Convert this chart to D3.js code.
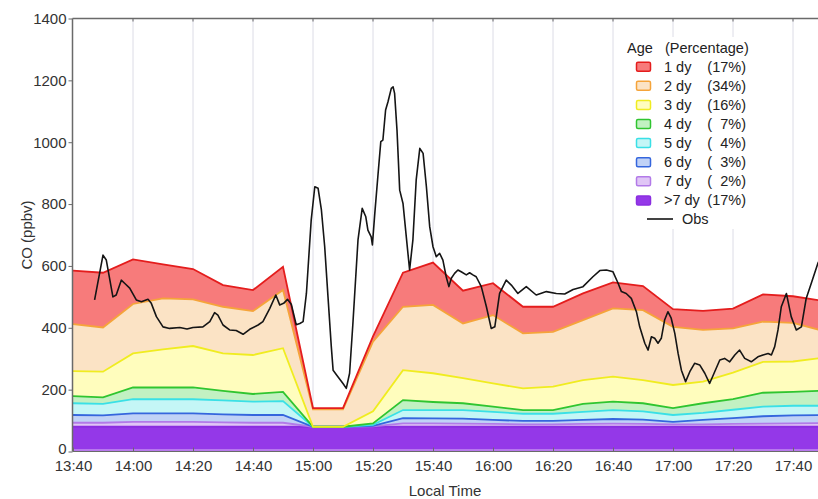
<!DOCTYPE html>
<html><head><meta charset="utf-8">
<script src="https://cdn.jsdelivr.net/npm/d3@7"></script>
<style>
html,body{margin:0;padding:0;background:#fff;}
svg{display:block;font-family:"Liberation Sans",Arial,sans-serif;}
</style></head>
<body><svg id="chart" width="818" height="499"></svg>
<script>
// ---- data ----
const times = ["13:40","13:50","14:00","14:10","14:20","14:30","14:40","14:50","15:00","15:10","15:20","15:30","15:40","15:50","16:00","16:10","16:20","16:30","16:40","16:50","17:00","17:10","17:20","17:30","17:40","17:50"];
const age_gt7 = [80,80,80,80,80,80,80,80,80,80,80,80,80,80,80,80,80,80,80,80,80,80,80,80,80,80];
const age_7  = [13,13,16,16,16,14,13,13,0,0,1,11,11,10,9,8,8,9,10,9,8,8,9,10,11,12];
const age_6  = [25,24,27,27,27,26,25,25,0,0,2,17,16,16,13,11,11,13,15,14,8,14,19,24,26,26];
const age_5  = [38,37,46,46,46,45,43,45,0,0,3,26,27,28,26,23,23,26,29,27,22,23,27,31,31,30];
const age_4  = [23,21,38,38,38,31,25,30,0,0,5,32,26,22,17,12,12,26,27,26,22,31,34,45,45,49];
const age_3  = [81,83,110,123,134,121,126,141,0,0,39,97,93,81,75,70,76,77,81,75,75,70,86,100,98,106];
const age_2  = [152,143,160,165,151,151,142,188,56,56,225,205,221,177,221,178,177,194,221,226,188,167,143,130,125,87];
const age_1  = [173,177,144,110,98,70,68,75,4,4,17,110,137,106,103,86,81,86,84,78,57,62,64,88,86,97];

const seriesNames = ["1 dy","2 dy","3 dy","4 dy","5 dy","6 dy","7 dy",">7 dy"];
const seriesPct   = ["(17%)","(34%)","(16%)","(  7%)","(  4%)","(  3%)","(  2%)","(17%)"];

// observed CO: minutes after 13:40, ppbv
const obsMin = [7.2,10.0,11.1,13.3,14.4,16.1,17.2,18.9,21.1,22.8,25.0,26.1,27.8,30.0,32.2,35.6,38.0,40.0,43.3,45.6,47.2,48.3,50.0,52.2,54.4,56.7,58.9,61.7,63.3,65.6,67.6,68.9,70.2,71.5,72.8,74.4,75.6,76.7,77.8,79.4,80.6,81.7,82.8,83.9,85.0,86.1,86.7,88.3,90.0,91.1,92.2,93.3,95.0,96.4,97.6,98.3,99.4,99.8,100.6,101.7,102.6,103.3,104.2,105.0,106.1,106.7,107.2,108.0,108.9,110.0,111.1,112.2,113.3,114.4,115.6,116.7,117.8,118.9,120.0,121.1,122.2,123.3,124.4,125.3,126.1,127.2,128.3,129.4,131.1,132.2,133.3,134.4,136.1,137.8,139.4,140.6,142.2,144.4,146.1,148.3,151.1,154.4,157.8,161.1,163.9,166.7,170.0,173.3,175.6,177.8,180.0,181.7,182.8,184.4,186.1,187.8,188.9,190.6,191.7,192.8,193.9,195.0,196.1,197.2,198.3,199.4,200.6,201.7,202.8,204.2,205.6,207.2,208.9,210.6,212.2,213.9,215.6,217.2,218.9,220.6,222.2,223.9,226.1,228.3,230.0,231.7,232.8,233.9,235.0,236.1,237.8,239.4,241.1,242.8,244.4,246.1,248.3,250.0];
const obsCO  = [490,635,619,500,506,554,544,528,490,484,492,479,436,403,398,401,396,401,403,420,449,441,409,393,391,379,395,409,420,463,506,474,479,492,475,410,414,420,511,748,856,851,781,662,500,339,263,242,220,204,253,414,684,786,759,716,694,668,770,899,1002,1007,1104,1131,1174,1179,1158,1039,845,802,694,587,684,878,980,964,856,727,662,630,641,619,565,533,560,576,587,581,571,578,571,565,533,468,398,403,511,554,538,511,533,506,517,511,509,524,533,565,585,587,581,544,517,511,495,452,403,350,328,371,366,350,366,425,452,431,382,317,263,226,258,285,280,253,220,258,296,301,290,312,328,301,290,306,312,317,312,339,393,468,511,436,393,403,495,544,609,640];

const xTickLabels = ["13:40","14:00","14:20","14:40","15:00","15:20","15:40","16:00","16:20","16:40","17:00","17:20","17:40"];
const yTickValues = [0,200,400,600,800,1000,1200,1400];

// ---- styles ----
const fills = {"1 dy":"#f77b7b","2 dy":"#fbe3c5","3 dy":"#fffdbd","4 dy":"#c2f1c2","5 dy":"#c4f6f6","6 dy":"#c0d2f6","7 dy":"#e0c6f6",">7 dy":"#9438e8"};
const strokes = {"1 dy":"#e41d1d","2 dy":"#f5a43a","3 dy":"#f0ec20","4 dy":"#30c530","5 dy":"#3ae0e6","6 dy":"#3566dd","7 dy":"#b27ae8",">7 dy":"#8a2ee0"};

const toMin = s => { const [h,m] = s.split(":").map(Number); return (h*60+m) - (13*60+40); };

const svg = d3.select("#chart");
const W = 818, H = 499;
const x = d3.scaleLinear().domain([0, 250]).range([73, 823]);
const y = d3.scaleLinear().domain([0, 1400]).range([451.5, 18.5]);
const pL = 72.5, pT = 18.5, pB = 451.5, pR = W;

svg.append("defs").append("clipPath").attr("id","plot")
  .append("rect").attr("x",pL).attr("y",pT).attr("width",pR-pL).attr("height",pB-pT);

// gridlines
const gridTicks = xTickLabels.map(toMin).filter(v => v > 0);
svg.append("g").selectAll("line").data(gridTicks).join("line")
  .attr("x1", d => x(d)).attr("x2", d => x(d)).attr("y1", pT).attr("y2", pB)
  .attr("stroke","#dcdce6").attr("stroke-width",1);

// stacked data table
const cols = {"1 dy":age_1,"2 dy":age_2,"3 dy":age_3,"4 dy":age_4,"5 dy":age_5,"6 dy":age_6,"7 dy":age_7,">7 dy":age_gt7};
const table = times.map((t,i) => { const r = {t: toMin(t)}; seriesNames.forEach(k => r[k] = cols[k][i]); return r; });
const stackOrder = seriesNames.slice().reverse();
const stacked = d3.stack().keys(stackOrder)(table);

const plot = svg.append("g").attr("clip-path","url(#plot)");
const area = d3.area().x(d => x(d.data.t)).y0(d => y(d[0])).y1(d => y(d[1]));
const topLine = d3.line().x(d => x(d.data.t)).y(d => y(d[1]));

plot.selectAll("path.band").data(stacked).join("path").attr("class","band")
  .attr("d", area).attr("fill", d => fills[d.key]).attr("stroke","none");
plot.append("line").attr("x1",pL).attr("x2",pR).attr("y1",pB-1.5).attr("y2",pB-1.5)
  .attr("stroke","#d9b8f2").attr("stroke-width",1.2);
plot.selectAll("path.edge").data(stacked).join("path").attr("class","edge")
  .attr("d", topLine).attr("fill","none").attr("stroke", d => strokes[d.key]).attr("stroke-width",1.8);

// observations
const obs = obsMin.map((m,i) => ({m, v: obsCO[i]}));
plot.append("path").datum(obs)
  .attr("d", d3.line().x(d => x(d.m)).y(d => y(d.v)))
  .attr("fill","none").attr("stroke","#151515").attr("stroke-width",1.6).attr("stroke-linejoin","round");

// axes
const axCol = "#6a6a6a";
const yAxis = svg.append("g").attr("transform",`translate(${pL},0)`)
  .call(d3.axisLeft(y).tickValues(yTickValues).tickSize(4).tickFormat(d3.format("d")));
yAxis.select(".domain").attr("stroke",axCol).attr("stroke-width",1.5).attr("d",`M0,${pT}V${pB}`);
yAxis.selectAll(".tick line").attr("stroke",axCol);
yAxis.selectAll(".tick text").attr("font-size",15).attr("fill","#333").attr("x",-6)
  .attr("font-family","'Liberation Sans',Arial,sans-serif")
  .attr("dy", d => d === 0 ? "0.12em" : "0.32em");

const xAxis = svg.append("g").attr("transform",`translate(0,${pB})`)
  .call(d3.axisBottom(x).tickValues(xTickLabels.map(toMin)).tickSizeInner(-4).tickSizeOuter(0)
    .tickFormat((d,i) => xTickLabels[i]));
xAxis.select(".domain").attr("stroke",axCol).attr("stroke-width",1.2).attr("d",`M${pL},0H${pR}`);
xAxis.selectAll(".tick line").attr("stroke",axCol);
xAxis.selectAll(".tick text").attr("font-size",15).attr("fill","#333").attr("y",9)
  .attr("font-family","'Liberation Sans',Arial,sans-serif");

// top frame
svg.append("line").attr("x1",pL).attr("x2",pR).attr("y1",pT).attr("y2",pT)
  .attr("stroke",axCol).attr("stroke-width",1.5);
svg.append("g").selectAll("line").data(gridTicks).join("line")
  .attr("x1", d => x(d)).attr("x2", d => x(d)).attr("y1", pT).attr("y2", pT+3)
  .attr("stroke",axCol);

// axis titles
svg.append("text").attr("x",445).attr("y",496).attr("text-anchor","middle")
  .attr("font-size",15).attr("fill","#333").text("Local Time");
svg.append("text").attr("transform","translate(32,235) rotate(-90)").attr("text-anchor","middle")
  .attr("font-size",15).attr("fill","#333").text("CO (ppbv)");

// legend
const lg = svg.append("g");
lg.append("rect").attr("x",622).attr("y",37).attr("width",145).attr("height",192).attr("fill","#fff");
lg.append("text").attr("x",627).attr("y",53).attr("font-size",14.5).attr("fill","#222")
  .style("white-space","pre").text("Age   (Percentage)");
seriesNames.forEach((k,i) => {
  const cy = 66.7 + i*19.1;
  lg.append("rect").attr("x",636.5).attr("y",cy-4.5).attr("width",14).attr("height",9).attr("rx",1.5)
    .attr("fill", fills[k]).attr("stroke",strokes[k]).attr("stroke-width",1.5);
  lg.append("text").attr("x",664).attr("y",cy+5).attr("font-size",14.5).attr("fill","#222").text(k);
  lg.append("text").attr("x",746).attr("y",cy+5).attr("text-anchor","end").attr("font-size",14.5)
    .attr("fill","#222").style("white-space","pre").text(seriesPct[i]);
});
lg.append("line").attr("x1",647).attr("x2",673).attr("y1",219).attr("y2",219).attr("stroke","#151515").attr("stroke-width",1.6);
lg.append("text").attr("x",682).attr("y",224).attr("font-size",14.5).attr("fill","#222").text("Obs");
</script>
</body></html>
